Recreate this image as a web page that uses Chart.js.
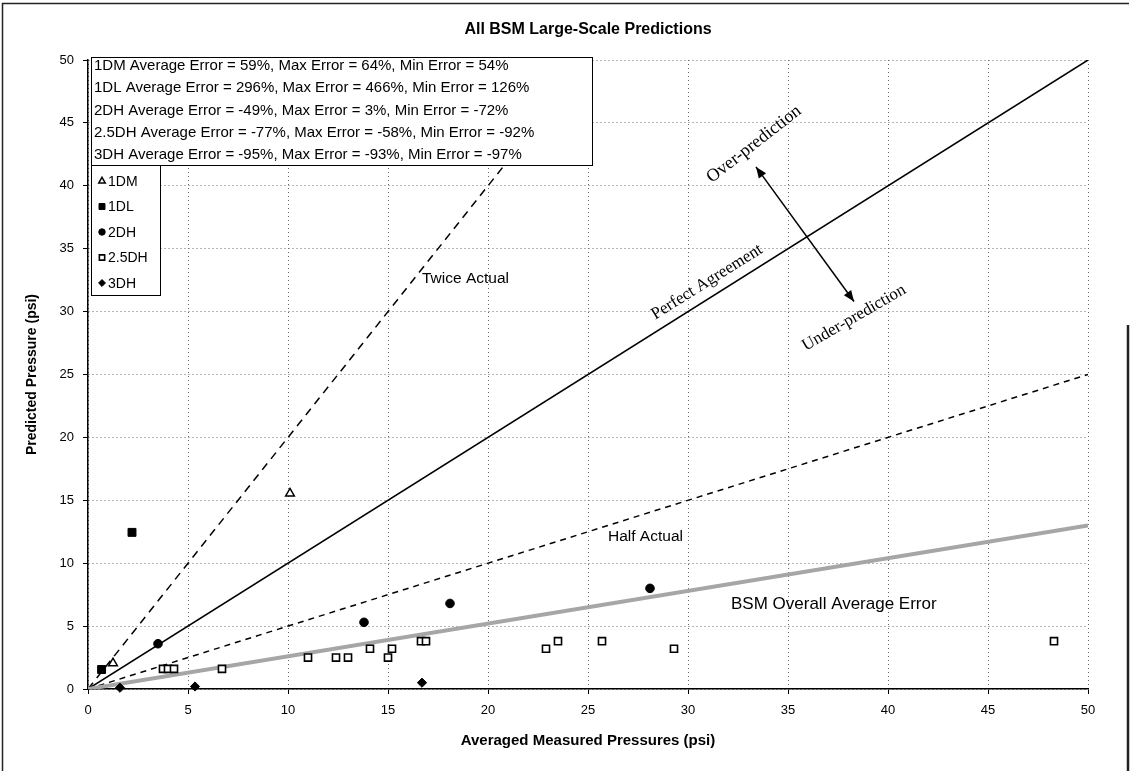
<!DOCTYPE html>
<html>
<head>
<meta charset="utf-8">
<title>All BSM Large-Scale Predictions</title>
<script src="https://cdn.jsdelivr.net/npm/chart.js@4/dist/chart.umd.min.js"></script>
<style>
  html, body { margin: 0; padding: 0; background: #ffffff; }
  canvas { display: block; }
</style>
</head>
<body>
<canvas id="chart" width="1132" height="771"></canvas>
<script>
// ---- Measured (x) vs predicted (y) pressures, psi ----
const dm1Measured = [1.25, 10.1];
const dm1Predicted = [2.05, 15.55];

const dl1Measured = [0.68, 2.2];
const dl1Predicted = [1.55, 12.45];

const dh2Measured = [3.5, 13.8, 18.1, 28.1];
const dh2Predicted = [3.6, 5.3, 6.8, 8.0];

const dh25Measured = [3.75, 4.0, 4.3, 6.7, 11.0, 12.4, 13.0, 14.1, 15.0, 15.2, 16.65, 16.9, 22.9, 23.5, 25.7, 29.3, 48.3];
const dh25Predicted = [1.6, 1.6, 1.6, 1.6, 2.5, 2.5, 2.5, 3.2, 2.5, 3.2, 3.8, 3.8, 3.2, 3.8, 3.8, 3.2, 3.8];

const dh3Measured = [1.6, 5.35, 16.7];
const dh3Predicted = [0.1, 0.2, 0.5];

// ---- Reference lines (end points) ----
const perfectX = [0, 50];
const perfectY = [0, 50];
const twiceX = [0, 25];
const twiceY = [0, 50];
const halfX = [0, 50];
const halfY = [0, 25];
const bsmAvgX = [0, 50];
const bsmAvgY = [0, 13];

// ---- Axis ranges ----
const xRange = [0, 50];
const yRange = [0, 50];
const tickStep = 5;

// ---- Text ----
const chartTitle = 'All BSM Large-Scale Predictions';
const seriesNames = ['1DM', '1DL', '2DH', '2.5DH', '3DH'];
const errorSummary = [
  '1DM Average Error = 59%, Max Error = 64%, Min Error = 54%',
  '1DL Average Error = 296%, Max Error = 466%, Min Error = 126%',
  '2DH Average Error = -49%, Max Error = 3%, Min Error = -72%',
  '2.5DH Average Error = -77%, Max Error = -58%, Min Error = -92%',
  '3DH Average Error = -95%, Max Error = -93%, Min Error = -97%'
];

const pts = (xs, ys) => xs.map((x, i) => ({ x: x, y: ys[i] }));

const SANS = "'Liberation Sans', Arial, sans-serif";
const SERIF = "'Liberation Serif', 'Times New Roman', serif";

function refLine(label, xs, ys, color, width, dash) {
  return {
    type: 'scatter', label: label, data: pts(xs, ys), showLine: true,
    borderColor: color, borderWidth: width, borderDash: dash,
    pointRadius: 0, pointHoverRadius: 0, order: 5
  };
}

function markers(label, xs, ys, style, radius, fill, borderWidth) {
  return {
    type: 'scatter', label: label, data: pts(xs, ys),
    pointStyle: style, pointRadius: radius, pointHoverRadius: radius,
    backgroundColor: fill, borderColor: '#000000', borderWidth: borderWidth,
    clip: false, order: 1
  };
}

const datasets = [
  refLine('BSM Overall Average Error', bsmAvgX, bsmAvgY, '#a6a6a6', 4, []),
  refLine('Half Actual', halfX, halfY, '#000000', 1.5, [6, 5]),
  refLine('Twice Actual', twiceX, twiceY, '#000000', 1.5, [8, 6]),
  refLine('Perfect Agreement', perfectX, perfectY, '#000000', 1.5, []),
  markers(seriesNames[0], dm1Measured, dm1Predicted, 'triangle', 5, '#ffffff', 1.5),
  markers(seriesNames[1], dl1Measured, dl1Predicted, 'rect', 5.6, '#000000', 1),
  markers(seriesNames[2], dh2Measured, dh2Predicted, 'circle', 4.3, '#000000', 1),
  markers(seriesNames[3], dh25Measured, dh25Predicted, 'rect', 5, '#ffffff', 1.6),
  markers(seriesNames[4], dh3Measured, dh3Predicted, 'rectRot', 4.6, '#000000', 1)
];

// Annotations, placed in data units
const notes = [
  { text: 'Twice Actual', x: 16.7, y: 32.6, font: '15.5px ' + SANS, align: 'left', angle: 0 },
  { text: 'Half Actual', x: 26.0, y: 12.1, font: '15.5px ' + SANS, align: 'left', angle: 0 },
  { text: 'BSM Overall Average Error', x: 32.15, y: 6.7, font: '17px ' + SANS, align: 'left', angle: 0 },
  { text: 'Perfect Agreement', x: 30.95, y: 32.35, font: '17px ' + SERIF, align: 'center', angle: -32 },
  { text: 'Under-prediction', x: 38.3, y: 29.5, font: '17px ' + SERIF, align: 'center', angle: -30 },
  { text: 'Over-prediction', x: 33.3, y: 43.3, font: '18px ' + SERIF, align: 'center', angle: -38 }
];
const arrowFrom = { x: 33.4, y: 41.5 };
const arrowTo = { x: 38.3, y: 30.8 };

function arrowHead(ctx, tipX, tipY, fromX, fromY, len, half) {
  const a = Math.atan2(tipY - fromY, tipX - fromX);
  ctx.beginPath();
  ctx.moveTo(tipX, tipY);
  ctx.lineTo(tipX - len * Math.cos(a) + half * Math.sin(a), tipY - len * Math.sin(a) - half * Math.cos(a));
  ctx.lineTo(tipX - len * Math.cos(a) - half * Math.sin(a), tipY - len * Math.sin(a) + half * Math.cos(a));
  ctx.closePath();
  ctx.fill();
}

const overlay = {
  id: 'overlay',
  beforeDraw(chart) {
    const ctx = chart.ctx;
    const area = chart.chartArea;
    ctx.save();
    ctx.fillStyle = '#ffffff';
    ctx.fillRect(0, 0, chart.width, chart.height);
    // page frame
    ctx.strokeStyle = '#222222';
    ctx.lineWidth = 1.5;
    ctx.beginPath();
    ctx.moveTo(2.5, chart.height);
    ctx.lineTo(2.5, 3.5);
    ctx.lineTo(chart.width - 3, 3.5);
    ctx.stroke();
    ctx.lineWidth = 2.5;
    ctx.beginPath();
    ctx.moveTo(chart.width - 4, 325);
    ctx.lineTo(chart.width - 4, chart.height);
    ctx.stroke();
    // title, centred over the plot area
    ctx.fillStyle = '#000000';
    ctx.font = 'bold 16px ' + SANS;
    ctx.textAlign = 'center';
    ctx.textBaseline = 'middle';
    ctx.fillText(chartTitle, (area.left + area.right) / 2, 30);
    ctx.restore();
  },
  afterDatasetsDraw(chart) {
    const ctx = chart.ctx;
    const xs = chart.scales.x, ys = chart.scales.y;
    ctx.save();

    // text annotations
    ctx.fillStyle = '#000000';
    ctx.textBaseline = 'middle';
    notes.forEach(n => {
      ctx.save();
      ctx.translate(xs.getPixelForValue(n.x), ys.getPixelForValue(n.y));
      ctx.rotate(n.angle * Math.PI / 180);
      ctx.font = n.font;
      ctx.textAlign = n.align;
      ctx.fillText(n.text, 0, 0);
      ctx.restore();
    });

    // double-headed arrow
    const ax1 = xs.getPixelForValue(arrowFrom.x), ay1 = ys.getPixelForValue(arrowFrom.y);
    const ax2 = xs.getPixelForValue(arrowTo.x), ay2 = ys.getPixelForValue(arrowTo.y);
    ctx.strokeStyle = '#000000';
    ctx.lineWidth = 1.5;
    ctx.beginPath();
    ctx.moveTo(ax1, ay1);
    ctx.lineTo(ax2, ay2);
    ctx.stroke();
    arrowHead(ctx, ax1, ay1, ax2, ay2, 11, 4.5);
    arrowHead(ctx, ax2, ay2, ax1, ay1, 11, 4.5);

    // error summary box
    const bx = 91, by = 57, bw = 501, bh = 108;
    ctx.fillStyle = '#ffffff';
    ctx.fillRect(bx, by, bw, bh);
    ctx.strokeStyle = '#000000';
    ctx.lineWidth = 1;
    ctx.strokeRect(bx + 0.5, by + 0.5, bw, bh);
    ctx.fillStyle = '#000000';
    ctx.font = '15px ' + SANS;
    ctx.textAlign = 'left';
    ctx.textBaseline = 'middle';
    errorSummary.forEach((t, i) => ctx.fillText(t, bx + 3, by + 9 + i * 22.2));

    // series legend box
    const lx = 91, ly = 165, lw = 69, lh = 130;
    ctx.fillStyle = '#ffffff';
    ctx.fillRect(lx, ly, lw, lh);
    ctx.strokeStyle = '#000000';
    ctx.lineWidth = 1;
    ctx.strokeRect(lx + 0.5, ly + 0.5, lw, lh);
    ctx.font = '14px ' + SANS;
    chart.data.datasets.filter(d => d.order === 1).forEach((d, i) => {
      const cy = ly + 16 + i * 25.5;
      ctx.save();
      ctx.fillStyle = d.backgroundColor;
      ctx.strokeStyle = d.borderColor;
      ctx.lineWidth = d.borderWidth;
      Chart.helpers.drawPoint(ctx, {
        pointStyle: d.pointStyle, radius: d.pointRadius * 0.75, borderWidth: d.borderWidth, rotation: 0
      }, lx + 11, cy);
      ctx.restore();
      ctx.fillStyle = '#000000';
      ctx.fillText(d.label, lx + 17, cy + 1);
    });
    ctx.restore();
  }
};

new Chart(document.getElementById('chart'), {
  type: 'scatter',
  data: { datasets: datasets },
  options: {
    responsive: false,
    animation: false,
    devicePixelRatio: 1,
    layout: { padding: { left: 0, right: 44, top: 60, bottom: 0 } },
    plugins: {
      legend: { display: false },
      tooltip: { enabled: false },
      title: { display: false }
    },
    scales: {
      x: {
        type: 'linear', min: xRange[0], max: xRange[1],
        afterFit: s => { s.height = 82; },
        ticks: { stepSize: tickStep, color: '#000000', padding: 9, font: { family: SANS, size: 13 } },
        grid: { color: '#666666', lineWidth: 1, tickLength: 5, tickColor: '#000000' },
        border: { display: true, color: '#000000', width: 1.5, dash: [1, 3] },
        title: {
          display: true, text: 'Averaged Measured Pressures (psi)', color: '#000000',
          font: { family: SANS, size: 15, weight: 'bold' }, padding: { top: 0, bottom: 21 }
        }
      },
      y: {
        type: 'linear', min: yRange[0], max: yRange[1],
        afterFit: s => { s.width = 88; },
        ticks: { stepSize: tickStep, color: '#000000', padding: 9, font: { family: SANS, size: 13 } },
        grid: { color: '#666666', lineWidth: 1, tickLength: 5, tickColor: '#000000' },
        border: { display: true, color: '#000000', width: 1.5, dash: [1, 3] },
        title: {
          display: true, text: 'Predicted Pressure (psi)', color: '#000000',
          font: { family: SANS, size: 14, weight: 'bold' }, padding: { top: 24, bottom: 0 }
        }
      }
    }
  },
  plugins: [overlay]
});
</script>
</body>
</html>
